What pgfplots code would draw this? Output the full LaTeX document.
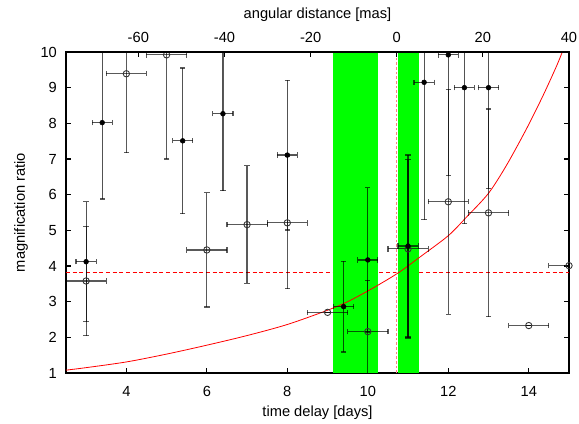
\documentclass[border=0pt]{standalone}
\usepackage{fontspec}
\setmainfont{Liberation Sans}
\usepackage{pgfplots}
\usepackage{pgfplotstable}
\pgfplotsset{compat=1.18}
\pgfplotstableread{
x y ex ey
3.0 4.12 0.25 1.68
3.4 8.02 0.25 2.14
5.4 7.51 0.25 2.04
6.4 8.27 0.25 2.16
8.0 7.11 0.25 2.10
9.4 2.86 0.25 1.27
10.0 4.17 0.25 2.02
11.0 4.56 0.25 2.55
11.4 9.15 0.25 3.85
12.0 9.92 0.25 3.39
12.4 9.00 0.25 3.81
13.0 9.00 0.25 2.83
}\filled
\pgfplotstableread{
x y ex ey
3.0 3.58 0.5 1.53
4.0 9.39 0.5 2.21
5.0 9.92 0.5 2.92
6.0 4.45 0.5 1.60
7.0 5.16 0.5 1.65
8.0 5.21 0.5 1.85
9.0 2.70 0.5 0
10.0 2.16 0.5 1.44
11.0 4.48 0.5 2.50
12.0 5.80 0.5 3.15
13.0 5.49 0.5 2.91
14.0 2.33 0.5 0
15.0 4.01 0.5 0
}\open
\begin{document}
\fontsize{11pt}{13pt}\selectfont
\begin{tikzpicture}
\begin{axis}[
  at={(0,0)}, anchor=south west,
  scale only axis, width=377.25pt, height=240.75pt,
  xmin=2.5, xmax=15, ymin=1, ymax=10,
  xtick={4,6,8,10,12,14}, ytick={1,2,...,10},
  xtick pos=bottom, ytick pos=both,
  tick align=inside, major tick length=3.5pt,
  axis line style={line width=1.1pt},
  every tick/.style={black, line width=0.8pt},
  /pgf/number format/assume math mode=true,
  xticklabel style={yshift=-6pt},
  yticklabel style={xshift=-3pt},
  xlabel={time delay [days]}, ylabel={magnification ratio},
  xlabel style={at={(axis description cs:0.5,-0.1246)}, anchor=center},
  ylabel style={at={(axis description cs:-0.0895,0.5)}, anchor=center},
  clip=true,
]
% dashed horizontal
\addplot[red, line width=0.6pt, dash pattern=on 3pt off 2pt] coordinates {(2.5,3.82) (15,3.82)};
% green bands
\addplot[fill=green, draw=none] coordinates {(9.13,1) (10.26,1) (10.26,10) (9.13,10)} -- cycle;
\addplot[fill=green, draw=none] coordinates {(10.74,1) (11.27,1) (11.27,10) (10.74,10)} -- cycle;
% model curve
\addplot[red, line width=0.6pt, smooth] coordinates {
(2.5,1.08) (3,1.15) (4,1.31) (5,1.53) (6,1.78) (7,2.05) (8,2.36) (9,2.76)
(9.5,3.0) (10,3.30) (10.4,3.56) (10.8,3.84) (11.33,4.28) (12,4.85) (12.46,5.38)
(13,6.04) (13.45,6.83) (13.95,7.86) (14.36,8.79) (14.7,9.63) (14.85,10.05)};
% vertical line at 0 mas
\addplot[red!50, line width=1.1pt, dash pattern=on 2pt off 1.5pt] coordinates {(10.71,1) (10.71,10)};
% open points
\addplot[only marks, mark=o, mark size=2.4pt, black!80, line width=0.65pt,
  error bars/.cd, x dir=both, x explicit, y dir=both, y explicit,
  error bar style={black, line width=0.9pt, opacity=0.65},
  error mark options={rotate=90, black, mark size=2pt, line width=0.9pt, opacity=0.65}]
  table[x=x, y=y, x error=ex, y error=ey] {\open};
% filled points
\addplot[only marks, mark=*, mark size=1.8pt, black, fill=black,
  error bars/.cd, x dir=both, x explicit, y dir=both, y explicit,
  error bar style={black, line width=0.9pt, opacity=0.65},
  error mark options={rotate=90, black, mark size=2pt, line width=0.9pt, opacity=0.65}]
  table[x=x, y=y, x error=ex, y error=ey] {\filled};
\end{axis}
\begin{axis}[
  at={(0,0)}, anchor=south west,
  scale only axis, width=377.25pt, height=240.75pt,
  xmin=-76.8, xmax=40, ymin=1, ymax=10,
  axis x line*=top, hide y axis,
  xtick={-60,-40,...,40},
  tick align=inside, major tick length=3.5pt,
  axis line style={line width=1.1pt},
  every tick/.style={black, line width=0.8pt},
  /pgf/number format/assume math mode=true,
  xticklabel style={yshift=3.3pt},
  xlabel={angular distance [mas]},
  xlabel style={at={(axis description cs:0.5,1.1153)}, anchor=center},
]
\addplot[draw=none] coordinates {(0,5)};
\end{axis}
\pgfresetboundingbox
\useasboundingbox (-49.5pt,-38.25pt) rectangle (384.75pt,279.75pt);
\end{tikzpicture}
\end{document}
